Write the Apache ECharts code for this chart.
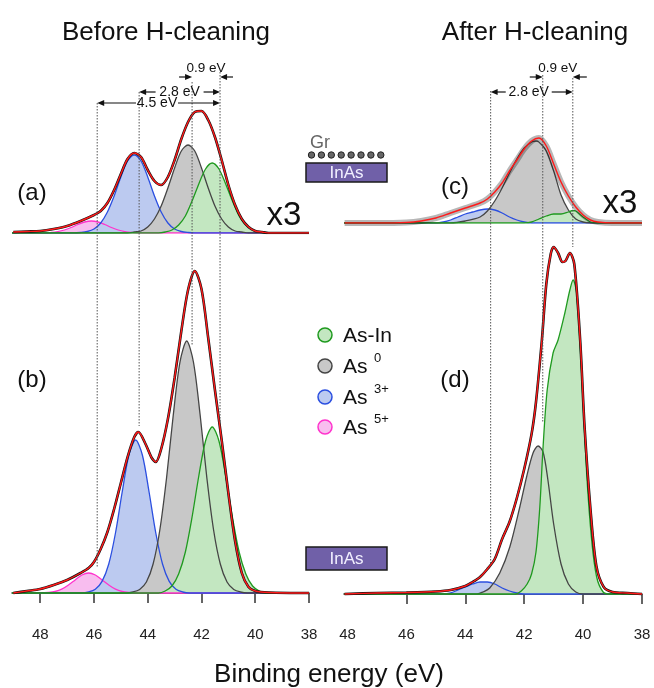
<!DOCTYPE html>
<html>
<head>
<meta charset="utf-8">
<script src="https://cdn.jsdelivr.net/npm/echarts@6/dist/echarts.min.js"></script>
<style>
  html, body { margin: 0; padding: 0; background: #fff; }
  #chart { width: 654px; height: 688px; }
</style>
</head>
<body>
<div id="chart"></div>
<script>
// As 3d spectra, [binding energy (eV), intensity (a.u.)]

// (a) before H-cleaning, Gr/InAs (x3)
var aAsIn = [[43.6,0],[43.35,1],[43.1,3],[42.85,8],[42.6,17],[42.35,32],[42.1,49],[41.85,64],[41.6,70],[41.35,64],[41.1,49],[40.85,32],[40.6,17],[40.35,8],[40.1,3],[39.85,1],[39.6,0]];
var aAs0 = [[44.75,0],[44.5,1],[44.25,2],[44.0,6],[43.75,14],[43.5,27],[43.25,45],[43.0,65],[42.75,82],[42.5,88],[42.25,82],[42.0,65],[41.75,45],[41.5,27],[41.25,14],[41.0,6],[40.75,2],[40.5,1],[40.25,0]];
var aAs3 = [[46.75,0],[46.5,0.5],[46.25,1.5],[46.0,4],[45.75,10],[45.5,21],[45.25,37],[45.0,56],[44.75,72],[44.5,78],[44.25,72],[44.0,56],[43.75,37],[43.5,21],[43.25,10],[43.0,4],[42.75,1.5],[42.5,0.5],[42.25,0]];
var aAs5 = [[47.85,0],[47.6,0.5],[47.35,1.4],[47.1,3],[46.85,5.5],[46.6,8.5],[46.35,11],[46.1,12],[45.85,11],[45.6,8.5],[45.35,5.5],[45.1,3],[44.85,1.4],[44.6,0.5],[44.35,0]];
var aFit = [[49,1],[48.5,1.5],[48,2],[47.5,4],[47,7],[46.5,12],[46,18],[45.75,22],[45.5,30],[45.25,43],[45,59],[44.75,74],[44.5,80],[44.25,76],[44,63],[43.75,52],[43.5,48],[43.25,56],[43,73],[42.75,94],[42.5,111],[42.25,121],[42,122],[41.75,113],[41.5,96],[41.25,73],[41,48],[40.75,28],[40.5,14],[40.25,6],[40,2],[39.75,1],[39.5,0],[38,0]];

// (b) before H-cleaning, InAs
var bAsIn = [[43.6,0],[43.35,2],[43.1,7],[42.85,19],[42.6,41],[42.35,76],[42.1,117],[41.85,152],[41.6,166],[41.35,152],[41.1,117],[40.85,76],[40.6,41],[40.35,19],[40.1,7],[39.85,2],[39.6,0]];
var bAs0 = [[44.8,0],[44.55,1],[44.3,3.6],[44.05,11],[43.8,29],[43.55,63],[43.3,115],[43.05,178],[42.8,231],[42.55,252],[42.3,231],[42.05,178],[41.8,115],[41.55,63],[41.3,29],[41.05,11],[40.8,3.6],[40.55,1],[40.3,0]];
var bAs3 = [[46.45,0],[46.2,1],[45.95,3.7],[45.7,11.6],[45.45,29],[45.2,60],[44.95,101],[44.7,138],[44.45,153],[44.2,138],[43.95,101],[43.7,60],[43.45,29],[43.2,11.6],[42.95,3.7],[42.7,1],[42.45,0]];
var bAs5 = [[47.95,0],[47.7,0.5],[47.45,1.5],[47.2,3.8],[46.95,8],[46.7,13],[46.45,18],[46.2,20],[45.95,18],[45.7,13],[45.45,8],[45.2,3.8],[44.95,1.5],[44.7,0.5],[44.45,0]];
var bFit = [[49,0],[48.5,2],[48,4],[47.5,8],[47,13],[46.5,20],[46.2,25],[46,31],[45.75,44],[45.5,61],[45.25,84],[45,110],[44.75,136],[44.5,156],[44.35,161],[44.1,150],[43.85,135],[43.7,131],[43.5,144],[43.25,174],[43,215],[42.75,262],[42.5,303],[42.25,322],[42,304],[41.75,255],[41.5,203],[41.25,153],[41,100],[40.75,52],[40.5,20],[40.25,6],[40,2],[39.5,0.5],[38,0]];

// (c) after H-cleaning, Gr/InAs (x3)
var cAsIn = [[42,0],[41.75,1],[41.5,4],[41.25,7],[41,9],[40.75,9],[40.5,11],[40.35,12.5],[40.25,12],[40,6],[39.75,1],[39.5,0]];
var cAs0 = [[44.5,0],[44,2],[43.5,6],[43.25,12],[43,22],[42.75,35],[42.5,50],[42.25,64],[42,75],[41.75,81],[41.6,82],[41.5,81],[41.25,72],[41,52],[40.75,28],[40.5,13],[40.25,4],[40,1],[39.75,0]];
var cAs3 = [[45,0],[44.75,1],[44.5,3],[44.25,6],[44,9],[43.75,11],[43.5,13],[43.25,14],[43,13],[42.75,10],[42.5,6],[42.25,3],[42,1],[41.75,0]];
var cFit = [[48.1,0],[47,0],[46,0.5],[45.5,2],[45,5],[44.5,10],[44,15],[43.5,20],[43.25,24],[43,31],[42.75,40],[42.5,52],[42.25,63],[42,74],[41.75,82],[41.5,85],[41.25,77],[41,59],[40.75,41],[40.5,27],[40.25,16],[40,8],[39.75,3],[39.5,1],[39,0],[38,0]];

// (d) after H-cleaning, InAs
var dAsIn = [[42.3,0],[42.1,3],[41.9,10],[41.75,20],[41.6,42],[41.47,87],[41.36,147],[41.22,204],[41.02,241],[40.85,254],[40.62,281],[40.45,304],[40.34,314],[40.22,301],[40.05,221],[39.88,121],[39.71,54],[39.54,17],[39.32,2],[39.1,0]];
var dAs0 = [[43.6,0],[43.4,2],[43.17,6],[42.83,21],[42.49,47],[42.15,87],[41.92,117],[41.7,141],[41.53,148],[41.36,142],[41.2,115],[41.0,70],[40.75,30],[40.5,10],[40.25,2],[40,0]];
var dAs3 = [[44.75,0],[44.5,1],[44.25,4],[44,7],[43.75,10],[43.5,12],[43.25,12],[43,10],[42.75,6],[42.5,3],[42.25,1],[42,0]];
var dFit = [[48.1,0],[47,1],[46,1.5],[45,2.5],[44.5,4],[44,8],[43.75,12],[43.5,17],[43.25,25],[43,35],[42.75,55],[42.5,72],[42.25,96],[42,125],[41.75,160],[41.6,192],[41.4,254],[41.25,310],[41.1,340],[41,347],[40.85,341],[40.7,332],[40.6,333],[40.45,341],[40.3,330],[40.1,254],[39.95,167],[39.75,85],[39.55,28],[39.3,7],[39,2],[38.5,1],[38,0]];

var tickValues = [38, 40, 42, 44, 46, 48];
var legendNames = ['As-In', 'As', 'As', 'As'];
var legendSups = ['', '0', '3+', '5+'];

var FONT = '"Liberation Sans", Arial, sans-serif';
var col = {
    asIn: { line: '#1f9a1f', fill: '#c3e7c1' },
    as0:  { line: '#454545', fill: '#c8c8c8' },
    as3:  { line: '#2b4fe0', fill: '#bccaf0' },
    as5:  { line: '#ff33cc', fill: '#f8bdef' }
};

var chart = echarts.init(document.getElementById('chart'));

// pad a component with zero baseline out to the axis ends
function withBase(d, hi) {
    return [[hi, 0]].concat(d).concat([[38, 0]]);
}

function comp(d, g, c, hi) {
    return {
        type: 'line', xAxisIndex: g, yAxisIndex: g,
        data: withBase(d, hi), smooth: 0.3, symbol: 'none',
        lineStyle: { color: c.line, width: 1.3 },
        areaStyle: { color: c.fill, opacity: 1 },
        silent: true
    };
}

function fit(d, g, noisy) {
    return [{
        type: 'line', xAxisIndex: g, yAxisIndex: g, data: d, smooth: 0.3, symbol: 'none',
        lineStyle: noisy ? { color: '#111', width: 6, opacity: 0.3 } : { color: '#111', width: 2.6 },
        silent: true
    }, {
        type: 'line', xAxisIndex: g, yAxisIndex: g, data: d, smooth: 0.3, symbol: 'none',
        lineStyle: { color: '#ff1a1a', width: 1.4 },
        silent: true
    }];
}

function xAxis(g, max, showIt, ticks) {
    return {
        type: 'value', gridIndex: g, min: 38, max: max, interval: 2, inverse: true,
        show: showIt,
        axisLine: { lineStyle: { color: '#333', width: 1.5 } },
        axisTick: { show: true, length: 10, inside: false, customValues: ticks, lineStyle: { color: '#333', width: 1.5 } },
        axisLabel: { customValues: tickValues, fontSize: 15, color: '#222', margin: 9, fontFamily: FONT },
        splitLine: { show: false }
    };
}

function yAxis(g, min, max) {
    return { type: 'value', gridIndex: g, min: min, max: max, show: false, splitLine: { show: false } };
}

var series = []
    .concat([comp(aAs5, 0, col.as5, 49.05), comp(aAs3, 0, col.as3, 49.05), comp(aAs0, 0, col.as0, 49.05), comp(aAsIn, 0, col.asIn, 49.05)])
    .concat(fit(aFit, 0))
    .concat([comp(bAs5, 1, col.as5, 49.05), comp(bAs3, 1, col.as3, 49.05), comp(bAs0, 1, col.as0, 49.05), comp(bAsIn, 1, col.asIn, 49.05)])
    .concat(fit(bFit, 1))
    .concat([comp(cAs3, 2, col.as3, 48.12), comp(cAs0, 2, col.as0, 48.12), comp(cAsIn, 2, col.asIn, 48.12)])
    .concat(fit(cFit, 2, true))
    .concat([comp(dAs3, 3, col.as3, 48.12), comp(dAs0, 3, col.as0, 48.12), comp(dAsIn, 3, col.asIn, 48.12)])
    .concat(fit(dFit, 3));

chart.setOption({
    animation: false,
    backgroundColor: '#fff',
    grid: [
        { left: 12, width: 297, top: 60, height: 173 },
        { left: 12, width: 297, top: 250, height: 368 },
        { left: 344, width: 298, top: 60, height: 163 },
        { left: 344, width: 298, top: 240, height: 378 }
    ],
    xAxis: [
        xAxis(0, 49.05, false, tickValues),
        xAxis(1, 49.05, true, tickValues),
        xAxis(2, 48.12, false, [38, 40, 42, 44, 46]),
        xAxis(3, 48.12, true, [38, 40, 42, 44, 46])
    ],
    yAxis: [yAxis(0, 0, 173), yAxis(1, -25, 343), yAxis(2, 0, 163), yAxis(3, -24, 354)],
    series: series
});

// ---- annotations ----
var g = [];
function txt(x, y, s, size, color, align) {
    g.push({ type: 'text', x: x, y: y, z: 60, silent: true,
        style: { text: s, fontSize: size, fontFamily: FONT, fill: color || '#111',
                 align: align || 'center', verticalAlign: 'middle' } });
}
function vline(x, y1, y2) {
    g.push({ type: 'line', z: 50, silent: true, shape: { x1: x, y1: y1, x2: x, y2: y2 },
        style: { stroke: '#555', lineWidth: 1, lineDash: [1.5, 1.5] } });
}
// arrow from x1 to x2, head at x2
function arrow(x1, x2, y) {
    var dir = x2 > x1 ? 1 : -1;
    g.push({ type: 'line', z: 55, silent: true, shape: { x1: x1, y1: y, x2: x2 - dir * 4, y2: y },
        style: { stroke: '#111', lineWidth: 1.2 } });
    g.push({ type: 'polygon', z: 55, silent: true,
        shape: { points: [[x2, y], [x2 - dir * 7, y - 3], [x2 - dir * 7, y + 3]] }, style: { fill: '#111' } });
}

var px = function (idx, ev) { return chart.convertToPixel({ xAxisIndex: idx }, ev); };

// binding energy markers: As5+, As3+, As0, As-In (left) ; As3+, As0, As-In (right)
var L = [45.88, 44.32, 42.35, 41.31].map(function (e) { return px(1, e); });
var R = [43.14, 41.37, 40.35].map(function (e) { return px(3, e); });

vline(L[0], 103, 568); vline(L[1], 92, 426); vline(L[2], 82, 345); vline(L[3], 72, 422);
vline(R[0], 91, 563); vline(R[1], 75, 422); vline(R[2], 78, 247);

// left energy splittings
txt((L[2] + L[3]) / 2, 68, '0.9 eV', 13.5);
arrow(L[2] - 13, L[2], 77); arrow(L[3] + 13, L[3], 77);
txt((L[1] + L[3]) / 2, 92, '2.8 eV', 14);
arrow((L[1] + L[3]) / 2 - 24, L[1], 92); arrow((L[1] + L[3]) / 2 + 24, L[3], 92);
txt(157, 103, '4.5 eV', 14);
arrow(136, L[0], 103); arrow(178, L[3], 103);

// right energy splittings
txt((R[1] + R[2]) / 2, 68, '0.9 eV', 13.5);
arrow(R[1] - 13, R[1], 77); arrow(R[2] + 14, R[2], 77);
txt((R[0] + R[2]) / 2 - 3, 92, '2.8 eV', 14);
arrow((R[0] + R[2]) / 2 - 26, R[0], 92); arrow((R[0] + R[2]) / 2 + 20, R[2], 92);

// titles and labels
txt(166, 33, 'Before H-cleaning', 26);
txt(535, 33, 'After H-cleaning', 26);
txt(329, 675, 'Binding energy (eV)', 26);
txt(32, 193, '(a)', 24);
txt(32, 380, '(b)', 24);
txt(455, 187, '(c)', 24);
txt(455, 380, '(d)', 24);
txt(284, 216, 'x3', 33);
txt(620, 204, 'x3', 33);

// sample sketches
txt(310, 143, 'Gr', 18, '#666', 'left');
for (var i = 0; i < 8; i++) {
    g.push({ type: 'circle', z: 60, silent: true, shape: { cx: 311.5 + i * 9.9, cy: 155, r: 3.2 },
        style: { fill: '#666', stroke: '#222', lineWidth: 1 } });
}
function box(y, h) {
    g.push({ type: 'rect', z: 60, silent: true, shape: { x: 306, y: y, width: 81, height: h },
        style: { fill: '#7060a8', stroke: '#1a1a1a', lineWidth: 1.5 } });
    txt(346.5, y + h / 2 + 0.5, 'InAs', 17, '#f2f0ff');
}
box(163, 19);
box(547, 23);

// legend
var legendCols = [col.asIn, col.as0, col.as3, col.as5];
var legendY = [335, 366, 397, 427];
legendNames.forEach(function (n, k) {
    g.push({ type: 'circle', z: 60, silent: true, shape: { cx: 325, cy: legendY[k], r: 7 },
        style: { fill: legendCols[k].fill, stroke: legendCols[k].line, lineWidth: 1.5 } });
    txt(343, legendY[k] + 1, n, 21, '#111', 'left');
    if (legendSups[k]) txt(374, legendY[k] - 8, legendSups[k], 13, '#111', 'left');
});

chart.setOption({ graphic: { elements: g } });
</script>
</body>
</html>
